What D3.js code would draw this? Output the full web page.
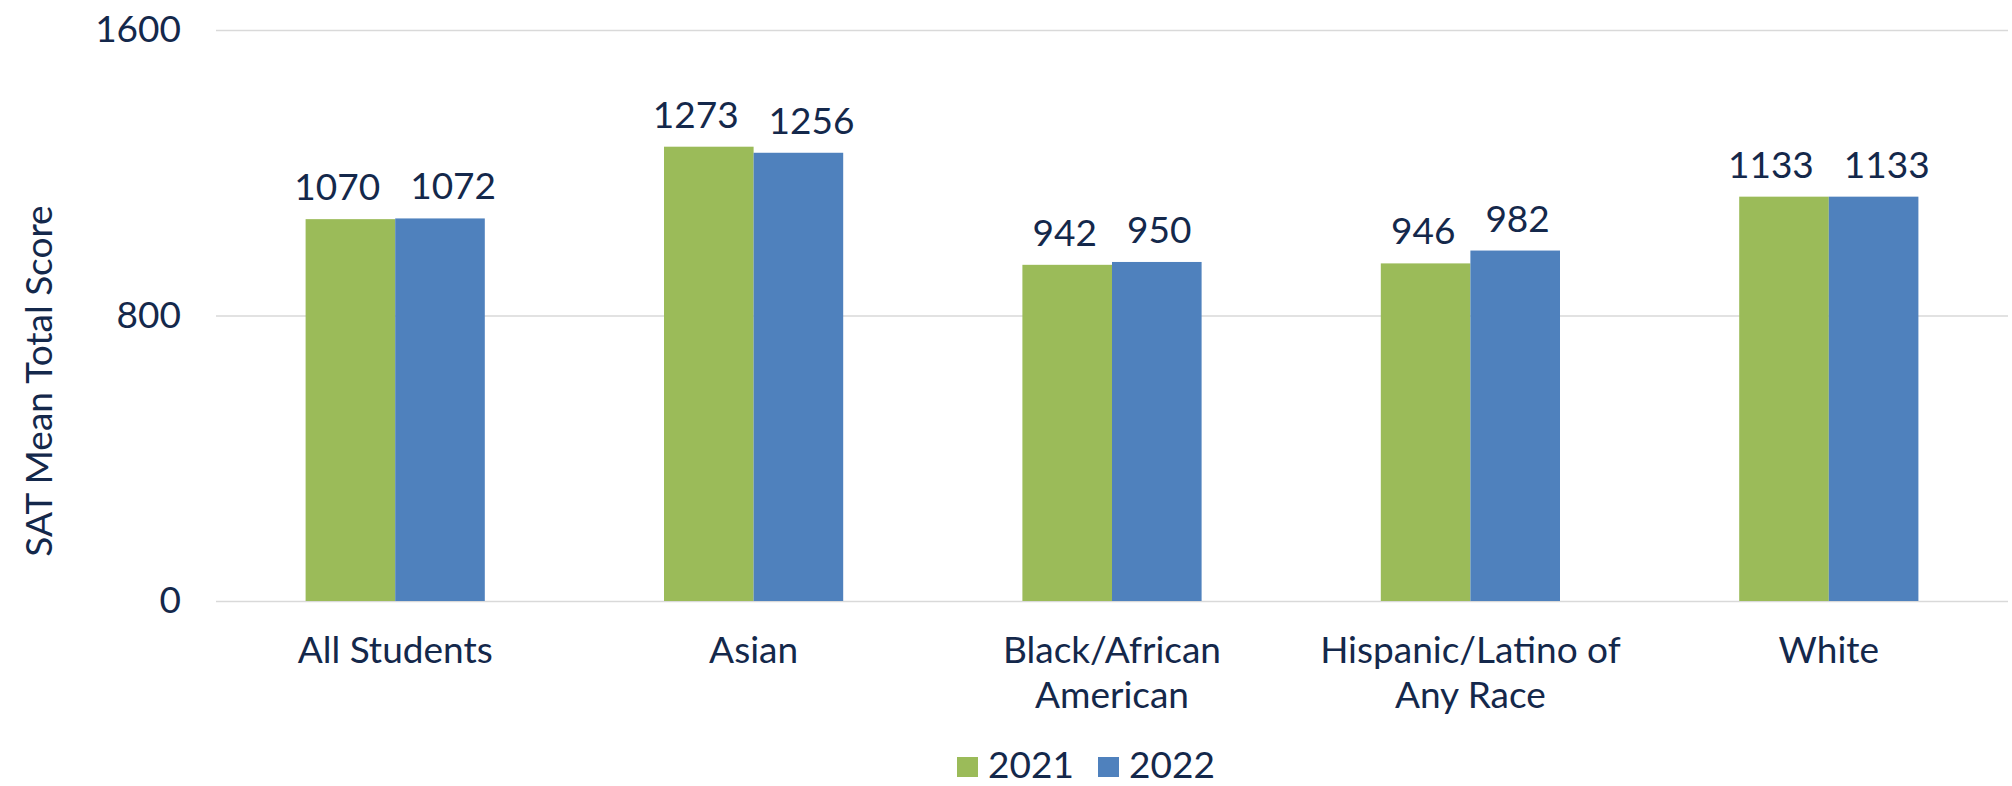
<!DOCTYPE html>
<html lang="en">
<head>
	<meta charset="UTF-8">
	<title>SAT Mean Total Score</title>
	<script src="https://d3js.org/d3.v7.min.js"></script>
	<style>
		body{
			margin: 0;
			background: #fff;
		}
		svg text{
			font-family: Lato, "Open Sans", sans-serif;
			font-size: 37px;
			fill: #14284b;
		}
	</style>
</head>
<body>
	<div id="chart"></div>
	<script>
		// data
		const categories = ["All Students", "Asian", "Black/African American", "Hispanic/Latino of Any Race", "White"];
		const categoryLines = [["All Students"], ["Asian"], ["Black/African", "American"], ["Hispanic/Latino of", "Any Race"], ["White"]];
		const years = ["2021", "2022"];
		const scores2021 = [1070, 1273, 942, 946, 1133];
		const scores2022 = [1072, 1256, 950, 982, 1133];
		const yTicks = [0, 800, 1600];
		const colors = ["#9bbb59", "#4f81bd"];

		const width = 2012;
		const height = 786;
		const plotLeft = 216, plotRight = 2008, plotTop = 30, plotBottom = 601;

		const svg = d3.select('#chart')
			.append('svg')
			.attr('width', width)
			.attr('height', height);

		const y = d3.scaleLinear().domain([0, 1600]).range([plotBottom, plotTop]);
		const x0 = d3.scaleBand().domain(categories).range([plotLeft, plotRight]).paddingInner(0.5).paddingOuter(0.25);
		const x1 = d3.scaleBand().domain(years).range([0, x0.bandwidth()]);

		//gridlines + tick labels
		const yAxis = d3.axisLeft(y).tickValues(yTicks).tickSize(-(plotRight - plotLeft)).tickPadding(35).tickFormat(d3.format('d'));
		const gy = svg.append('g')
			.attr('transform', `translate(${plotLeft},0)`)
			.call(yAxis);
		gy.select('.domain').remove();
		gy.selectAll('.tick line').attr('stroke', '#d9d9d9').attr('stroke-width', 1.5);
		gy.attr('font-size', null).attr('font-family', null);

		//bars
		const series = years.map((yr, i) => ({year: yr, values: i === 0 ? scores2021 : scores2022}));
		const groups = svg.append('g')
			.selectAll('g')
			.data(categories).enter()
			.append('g')
			.attr('transform', d => `translate(${x0(d)},0)`);

		groups.selectAll('rect')
			.data((d, ci) => series.map((s, si) => ({year: s.year, value: s.values[ci], si: si})))
			.enter()
			.append('rect')
			.attr('x', d => x1(d.year))
			.attr('y', d => y(d.value))
			.attr('width', x1.bandwidth())
			.attr('height', d => y(0) - y(d.value))
			.attr('fill', d => colors[d.si]);

		//value labels, pushed apart when they would touch
		groups.each(function(d, ci){
			const g = d3.select(this);
			const texts = series.map((s, si) => g.append('text')
				.attr('text-anchor', 'middle')
				.attr('x', x1(s.year) + x1.bandwidth() / 2)
				.attr('y', y(s.values[ci]) - 19)
				.text(s.values[ci]));
			const w0 = texts[0].node().getComputedTextLength();
			const w1 = texts[1].node().getComputedTextLength();
			const gap = x1.bandwidth() - (w0 + w1) / 2;
			const minGap = 30;
			if (gap < minGap) {
				const shift = (minGap - gap) / 2;
				texts[0].attr('x', +texts[0].attr('x') - shift);
				texts[1].attr('x', +texts[1].attr('x') + shift);
			}
		});

		//category labels
		svg.append('g')
			.selectAll('text')
			.data(categories).enter()
			.append('text')
			.attr('text-anchor', 'middle')
			.attr('transform', d => `translate(${x0(d) + x0.bandwidth() / 2},663)`)
			.selectAll('tspan')
			.data((d, i) => categoryLines[i])
			.enter()
			.append('tspan')
			.attr('x', 0)
			.attr('y', (d, i) => i * 44.5)
			.text(d => d);

		//y title
		svg.append('text')
			.attr('text-anchor', 'middle')
			.attr('transform', 'translate(52,381) rotate(-90)')
			.text('SAT Mean Total Score');

		//legend
		const legend = svg.append('g')
			.selectAll('g')
			.data(years).enter()
			.append('g')
			.attr('transform', (d, i) => `translate(${957 + i * 141},757)`);
		legend.append('rect')
			.attr('width', 21)
			.attr('height', 20)
			.attr('fill', (d, i) => colors[i]);
		legend.append('text')
			.attr('x', 31)
			.attr('y', 21)
			.text(d => d);
	</script>
</body>
</html>
